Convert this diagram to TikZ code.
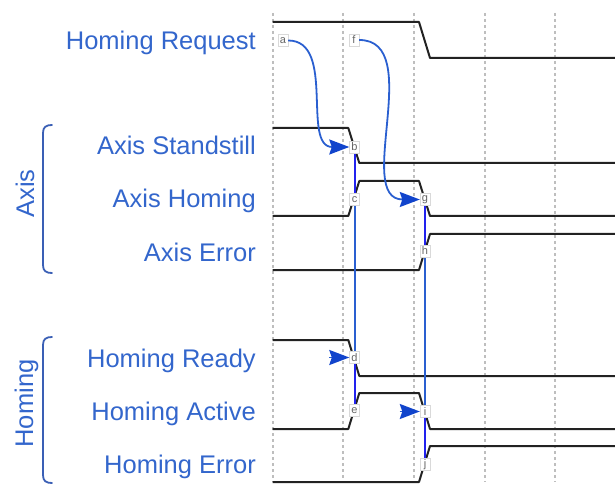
\documentclass[tikz,border=0pt]{standalone}
\usepackage{fontspec}
\setmainfont{Liberation Sans}
\usetikzlibrary{arrows.meta}
\definecolor{lblblue}{RGB}{51,102,204}
\definecolor{brblue}{RGB}{58,95,181}
\definecolor{curveblue}{RGB}{42,95,208}
\definecolor{tipblue}{RGB}{17,68,204}
\definecolor{linkblue}{RGB}{34,34,238}
\definecolor{sig}{RGB}{34,34,34}
\definecolor{gridgray}{RGB}{190,190,190}
\begin{document}
\begin{tikzpicture}[x=1pt,y=-1pt,
  signal/.style={draw=sig, line width=2pt, line join=round},
  gridline/.style={draw=gridgray, line width=2pt, dash pattern=on 3pt off 3pt},
  evt/.style={draw=black!15, fill=white, text=black!60, font=\fontsize{11}{11}\selectfont,
    inner sep=0.5pt, minimum width=10pt, minimum height=12pt},
  siglabel/.style={text=lblblue, font=\fontsize{25.5}{30}\selectfont, anchor=base east, inner sep=0pt},
  grouplabel/.style={text=lblblue, font=\fontsize{25.5}{30}\selectfont, rotate=90, anchor=base, inner sep=0pt},
  brace/.style={draw=brblue, line width=1.8pt, line cap=round},
  cause/.style={draw=curveblue, line width=1.8pt,
    -{Stealth[length=20pt,width=15pt,inset=2.5pt,color=tipblue]}},
  linkA/.style={draw=linkblue, line width=2pt},
  linkB/.style={draw=curveblue, line width=2pt}]
\useasboundingbox (0,0) rectangle (615,486);

% time grid
\foreach \t in {272.7,343.3,414,484.5,555}
  \draw[gridline] (\t,13) -- (\t,482);

% signal names
\node[siglabel] (lreq) at (256,50) {Homing Request};
\node[siglabel] (lstand) at (256,155) {Axis Standstill};
\node[siglabel] (lhom) at (256,208) {Axis Homing};
\node[siglabel] (laerr) at (256,261.5) {Axis Error};
\node[siglabel] (lrdy) at (256,367.5) {Homing Ready};
\node[siglabel] (lact) at (256,420.5) {Homing Active};
\node[siglabel] (lherr) at (256,473.5) {Homing Error};

% group brackets
\draw[brace] (52,125) .. controls (46,125) and (43,127) .. (43,133) -- (43,265)
  .. controls (43,271) and (46,273) .. (52,273);
\draw[brace] (52,337) .. controls (46,337) and (43,339) .. (43,345) -- (43,475)
  .. controls (43,481) and (46,483) .. (52,483);
\node[grouplabel] (gaxis) at (34,193.5) {Axis};
\node[grouplabel] (ghom) at (33,403.5) {Homing};

% waveforms
\draw[signal] (272.7,22) -- (419,22) -- (430,58) -- (615,58);
\draw[signal] (272.7,128) -- (348.3,128) -- (359.3,163) -- (615,163);
\draw[signal] (272.7,216) -- (348.3,216) -- (359.3,181) -- (419,181) -- (430,216) -- (615,216);
\draw[signal] (272.7,270) -- (419,270) -- (430,234) -- (615,234);
\draw[signal] (272.7,340) -- (348.3,340) -- (359.3,376) -- (615,376);
\draw[signal] (272.7,429) -- (348.3,429) -- (359.3,393) -- (419,393) -- (430,429) -- (615,429);
\draw[signal] (272.7,482) -- (419,482) -- (430,446) -- (615,446);

% event markers
\coordinate (pb) at (354.5,147);
\coordinate (pc) at (354.5,199.5);
\coordinate (pd) at (354.5,357.5);
\coordinate (pe) at (354.5,410.5);
\coordinate (pg) at (425,199.5);
\coordinate (ph) at (425,251);
\coordinate (pi) at (425,411.5);
\coordinate (pj) at (425,464.5);

% dependency lines
\draw[linkA] (pb) -- (pc);
\draw[linkB] (pc) -- (pd);
\draw[linkA] (pd) -- (pe);
\draw[linkA] (pg) -- (ph);
\draw[linkB] (ph) -- (pi);
\draw[linkA] (pi) -- (pj);

\node[evt] (a) at (283,40.5) {a};
\node[evt] (f) at (354,40) {f};
\node[evt] (b) at (pb) {b};
\node[evt] (c) at (pc) {c};
\node[evt] (d) at (pd) {d};
\node[evt] (e) at (pe) {e};
\node[evt] (g) at (pg) {g};
\node[evt] (h) at (ph) {h};
\node[evt] (i) at (pi) {i};
\node[evt] (j) at (pj) {j};

% causal arrows
\draw[cause] (a.east) to[out=0,in=180] (b.west);
\draw[cause] (f.east) to[out=0,in=180] (g.west);
\coordinate (d0) at (329,357.5);
\coordinate (i0) at (399.5,411.5);
\draw[cause] (d0) -- (d.west);
\draw[cause] (i0) -- (i.west);
\end{tikzpicture}
\end{document}
